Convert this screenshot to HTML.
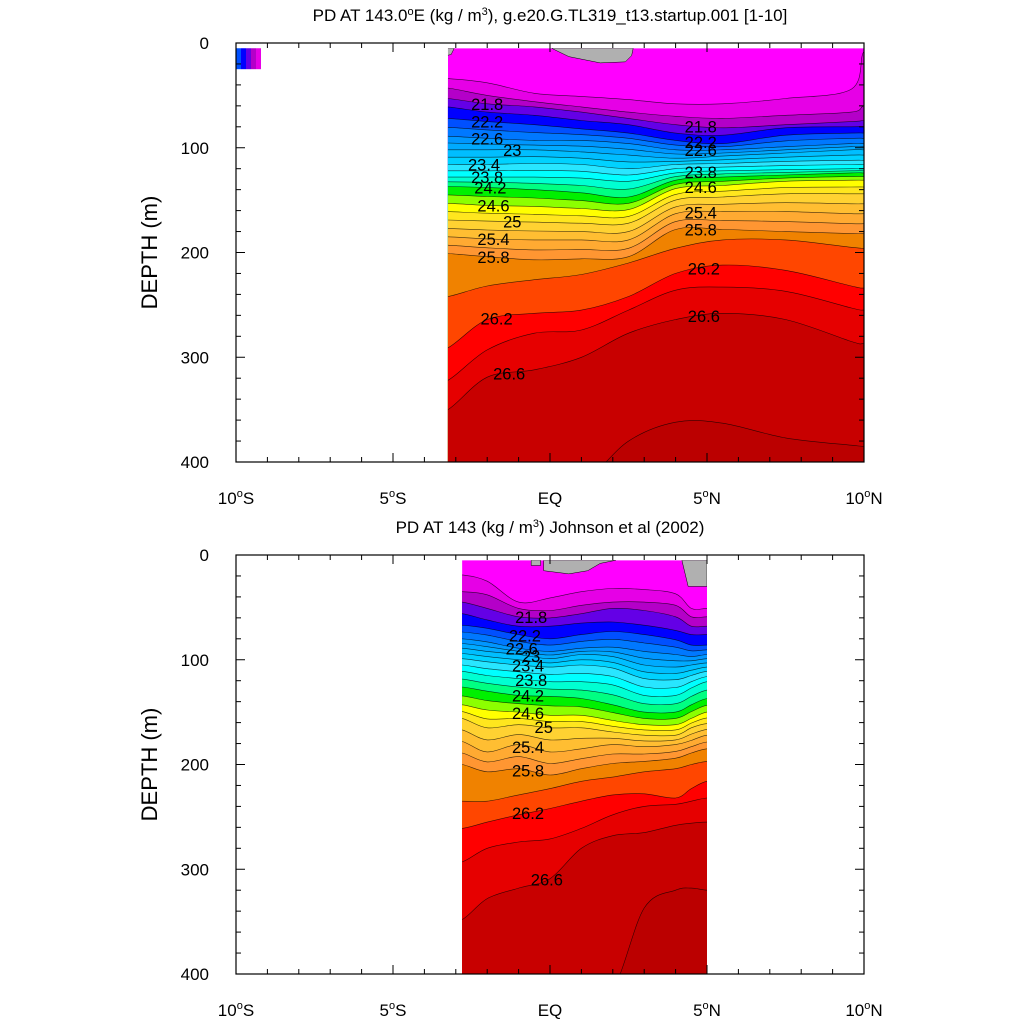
<!DOCTYPE html>
<html><head><meta charset="utf-8"><style>
html,body{margin:0;padding:0;background:#fff}
svg{display:block}
text{font-family:"Liberation Sans",sans-serif;fill:#000}
</style></head><body>
<svg id="chart" width="1024" height="1024" viewBox="0 0 1024 1024"></svg>
<script>
// ---- data ----
const topLats = [-3.25,-2,-0.5,1,2.5,4,5.5,7.5,9.6,10];
const topLevels = [21.4,21.6,21.8,22.0,22.2,22.6,23.0,23.4,23.8,24.2,24.6,25.0,25.4,25.8,26.0,26.2,26.4,26.6,26.8];
const topDepths = [
 [34,38,48,51,54,58,58,53,44,8],
 [43,50,56,61,66,70,72,69,66,60],
 [53,58,61,66,72,78,81,78,75,74],
 [61,66,69,74,78,86,88,81,80,80],
 [72,75,78,82,86,93,96,88,86,86],
 [89,91,93,93,96,102,102,99,96,96],
 [102,102,102,104,107,110,108,105,102,102],
 [116,116,115,116,120,116,115,113,112,112],
 [128,128,128,129,132,124,122,121,120,120],
 [137,138,140,143,147,131,128,126,124,124],
 [153,155,156,158,159,139,136,132,131,131],
 [169,170,171,172,172,150,147,144,144,144],
 [185,187,188,188,188,163,161,161,163,163],
 [201,204,207,206,204,178,178,180,182,182],
 [242,232,226,221,210,196,188,188,195,196],
 [291,264,258,255,242,220,212,217,232,234],
 [322,293,277,274,255,236,233,237,253,255],
 [350,319,312,300,277,264,258,264,285,287],
 [420,420,420,420,380,362,363,377,384,385]
];
const botLats = [-2.8,-2,-1,0,1,2,3,4,4.5,5];
const botLevels = topLevels;
const botDepths = [
 [19,25,45,41,35,32,33,37,51,51],
 [35,38,51,53,48,45,45,48,59,59],
 [45,51,59,60,56,51,53,59,68,68],
 [56,62,68,68,65,64,67,72,76,76],
 [67,70,76,80,76,73,76,81,86,86],
 [80,83,89,92,89,88,92,95,97,95],
 [89,92,95,99,95,97,105,107,105,103],
 [99,102,105,107,105,108,118,119,115,111],
 [111,115,118,121,121,124,134,134,127,121],
 [126,130,134,135,137,143,150,150,143,137],
 [143,148,150,153,153,158,162,162,156,150],
 [156,165,162,165,165,169,172,172,165,161],
 [178,188,181,188,185,181,183,181,177,172],
 [200,207,204,210,204,199,197,194,189,185],
 [235,235,229,223,216,212,207,204,200,197],
 [261,255,248,242,235,229,228,232,223,216],
 [293,280,274,271,261,248,240,238,235,232],
 [348,328,318,309,280,268,265,258,256,255],
 [414,414,414,414,414,414,337,320,318,320]
];
const xTickLabels = ["10","5","EQ","5","10"];
const yTickLabels = [0,100,200,300,400];

const bandColors = {
 "21.4":"#e600e6","21.6":"#b400c8","21.8":"#6400e6","22.0":"#0000ff","22.2":"#0050ff","22.4":"#0078ff",
 "22.6":"#0096ff","22.8":"#00aaff","23.0":"#00beff","23.2":"#00d2ff","23.4":"#28e6ff","23.6":"#00ffff",
 "23.8":"#00ffd2","24.0":"#00ff82","24.2":"#00f000","24.4":"#8cff00","24.6":"#ffff00","24.8":"#ffe61e",
 "25.0":"#ffd232","25.2":"#ffbe32","25.4":"#ffaa32","25.6":"#ff9632","25.8":"#f08200","26.0":"#ff4600",
 "26.2":"#ff0000","26.4":"#e60000","26.6":"#c80000","26.8":"#bb0000"
};

const NS="http://www.w3.org/2000/svg";
const svg=document.getElementById('chart');
function mk(tag,attrs,parent){const e=document.createElementNS(NS,tag);for(const k in attrs)e.setAttribute(k,attrs[k]);(parent||svg).appendChild(e);return e;}

const X0=236,X1=864;
function xs(lat){return X0+(lat+10)*(X1-X0)/20;}

function smoothPath(pts){
  let d="M"+pts[0][0].toFixed(1)+","+pts[0][1].toFixed(1);
  for(let i=0;i<pts.length-1;i++){
    const p0=pts[Math.max(0,i-1)],p1=pts[i],p2=pts[i+1],p3=pts[Math.min(pts.length-1,i+2)];
    const c1=[p1[0]+(p2[0]-p0[0])/6,p1[1]+(p2[1]-p0[1])/6];
    const c2=[p2[0]-(p3[0]-p1[0])/6,p2[1]-(p3[1]-p1[1])/6];
    d+="C"+c1[0].toFixed(1)+","+c1[1].toFixed(1)+" "+c2[0].toFixed(1)+","+c2[1].toFixed(1)+" "+p2[0].toFixed(1)+","+p2[1].toFixed(1);
  }
  return d;
}
function interp(lats,dep,lat){
  for(let i=0;i<lats.length-1;i++){if(lat<=lats[i+1]){const t=(lat-lats[i])/(lats[i+1]-lats[i]);return dep[i]+t*(dep[i+1]-dep[i]);}}
  return dep[dep.length-1];
}

function panel(cfg){
  const Y0=cfg.y0,Y1=cfg.y0+419;
  const ys=d=>Y0+d*(Y1-Y0)/400;
  const g=mk('g',{});
  
  
  const cid='clip-'+cfg.name;
  const cp=mk('clipPath',{id:cid},g);
  const dx0=xs(cfg.lats[0]),dx1=xs(cfg.lats[cfg.lats.length-1]),dy0=ys(5);
  mk('rect',{x:dx0,y:dy0,width:dx1-dx0,height:Y1-dy0},cp);
  const dg=mk('g',{'clip-path':'url(#'+cid+')'},g);
  mk('rect',{x:dx0,y:dy0,width:dx1-dx0,height:Y1-dy0,fill:'#ff00ff'},dg);
  const L=[],D=[];
  for(let i=0;i<cfg.levels.length;i++){
    L.push(cfg.levels[i]);D.push(cfg.depths[i]);
    if(i<cfg.levels.length-1&&cfg.levels[i+1]-cfg.levels[i]>0.3){
      L.push(+((cfg.levels[i]+cfg.levels[i+1])/2).toFixed(1));
      D.push(cfg.depths[i].map((v,j)=>(v+cfg.depths[i+1][j])/2));
    }
  }
  const lineG=mk('g',{},dg);
  for(let i=0;i<L.length;i++){
    const pts=cfg.lats.map((la,j)=>[xs(la),ys(D[i][j])]);
    const ext=[[pts[0][0]-20,pts[0][1]]].concat(pts,[[pts[pts.length-1][0]+20,pts[pts.length-1][1]]]);
    const p=smoothPath(ext);
    const band=mk('path',{d:p+"L"+(dx1+20)+","+(Y1+5)+"L"+(dx0-20)+","+(Y1+5)+"Z",fill:bandColors[L[i].toFixed(1)]},dg);
    
    
    const ln=mk('path',{d:p,fill:'none',stroke:'#000','stroke-width':0.6,'stroke-opacity':0.75},lineG);
    
    
  }
  dg.appendChild(lineG);
  cfg.gray.forEach(pg=>{const gp=mk('polygon',{points:pg.map(p=>xs(p[0])+","+ys(p[1])).join(" "),fill:'#b0b0b0',stroke:'#000','stroke-width':0.5},dg);
    });
  cfg.labels.forEach(lb=>{
    const i=L.findIndex(v=>Math.abs(v-lb[0])<0.01);
    const d=interp(cfg.lats,D[i],lb[1]);
    const t=mk('text',{x:xs(lb[1]),y:ys(d)+6,'font-size':16.5,'text-anchor':'middle'},dg);
    t.textContent=String(lb[0]);
    
    
  });
  if(cfg.extra)cfg.extra(g,ys);
  const fr=mk('rect',{x:X0,y:Y0,width:X1-X0,height:Y1-Y0,fill:'none',stroke:'#000','stroke-width':1.2},g);
  
  for(let d=0;d<=400;d+=20){
    const y=ys(d),len=(d%100===0)?9:5;
    mk('line',{x1:X0,x2:X0+len,y1:y,y2:y,stroke:'#000','stroke-width':1},g);
    mk('line',{x1:X1,x2:X1-len,y1:y,y2:y,stroke:'#000','stroke-width':1},g);
  }
  yTickLabels.forEach(v=>{const t=mk('text',{x:X0-27,y:ys(v)+6,'font-size':17,'text-anchor':'end'},g);t.textContent=v;
    });
  for(let la=-10;la<=10;la++){
    const x=xs(la),len=(la%5===0)?9:5;
    mk('line',{x1:x,x2:x,y1:Y1,y2:Y1-len,stroke:'#000','stroke-width':1},g);
    mk('line',{x1:x,x2:x,y1:Y0,y2:Y0+len,stroke:'#000','stroke-width':1},g);
  }
  xTickLabels.forEach((s,k)=>{
    const la=-10+5*k;
    const t=mk('text',{x:xs(la),y:Y1+42,'font-size':17,'text-anchor':'middle'},g);
    
    if(s==='EQ'){t.textContent='EQ';}
    else{t.appendChild(document.createTextNode(s));const sp=mk('tspan',{dy:-7,'font-size':11},t);sp.textContent='o';
      const s2=mk('tspan',{dy:7},t);s2.textContent=la<0?'S':'N';}
  });
  const yl=mk('text',{x:157,y:(Y0+Y1)/2,'font-size':22,'text-anchor':'middle',transform:'rotate(-90 157 '+((Y0+Y1)/2)+')'},g);
  yl.textContent='DEPTH (m)';
  const tt=mk('text',{x:550,y:Y0-22,'font-size':17,'text-anchor':'middle'},g);
  
  cfg.title(tt);
}

panel({name:'model-panel',y0:43,lats:topLats,levels:topLevels,depths:topDepths,
  gray:[[[0.05,5],[0.6,13],[1.6,19],[2.4,18],[2.6,12],[2.65,5]],[[-3.3,5],[-3.05,5],[-3.15,11],[-3.3,12]]],
  labels:[[21.8,-2],[22.2,-2],[22.6,-2],[23,-1.2],[23.4,-2.1],[23.8,-2],[24.2,-1.9],[24.6,-1.8],[25,-1.2],[25.4,-1.8],[25.8,-1.8],[26.2,-1.7],[26.6,-1.3],
          [21.8,4.8],[22.2,4.8],[22.6,4.8],[23.8,4.8],[24.6,4.8],[25.4,4.8],[25.8,4.8],[26.2,4.9],[26.6,4.9]],
  extra:function(g,ys){
    const cols=['#0050ff','#0000ff','#6400e6','#b400c8','#e600e6'];
    cols.forEach((c,k)=>{const r=mk('rect',{x:xs(-10)+k*5,y:ys(5),width:5,height:ys(25)-ys(5),fill:c},g);
      });
  },
  title:function(t){t.appendChild(document.createTextNode('PD AT 143.0'));const a=mk('tspan',{dy:-6,'font-size':11},t);a.textContent='o';
    const b=mk('tspan',{dy:6},t);b.textContent='E (kg / m';const c=mk('tspan',{dy:-6,'font-size':11},t);c.textContent='3';
    const d=mk('tspan',{dy:6},t);d.textContent='), g.e20.G.TL319_t13.startup.001 [1-10]';}
});
panel({name:'obs-panel',y0:555,lats:botLats,levels:botLevels,depths:botDepths,
  gray:[[[-0.6,5],[-0.6,10],[-0.3,10],[-0.3,5]],[[-0.2,5],[-0.2,15],[0.6,18],[1.2,15],[1.6,8],[2.1,5]],[[4.2,5],[4.4,30],[5,30],[5,5]]],
  labels:[[21.8,-0.6],[22.2,-0.8],[22.6,-0.9],[23,-0.6],[23.4,-0.7],[23.8,-0.6],[24.2,-0.7],[24.6,-0.7],[25,-0.2],[25.4,-0.7],[25.8,-0.7],[26.2,-0.7],[26.6,-0.1]],
  title:function(t){t.appendChild(document.createTextNode('PD AT 143 (kg / m'));const c=mk('tspan',{dy:-6,'font-size':11},t);c.textContent='3';
    const d=mk('tspan',{dy:6},t);d.textContent=') Johnson et al (2002)';}
});
</script>
</body></html>
